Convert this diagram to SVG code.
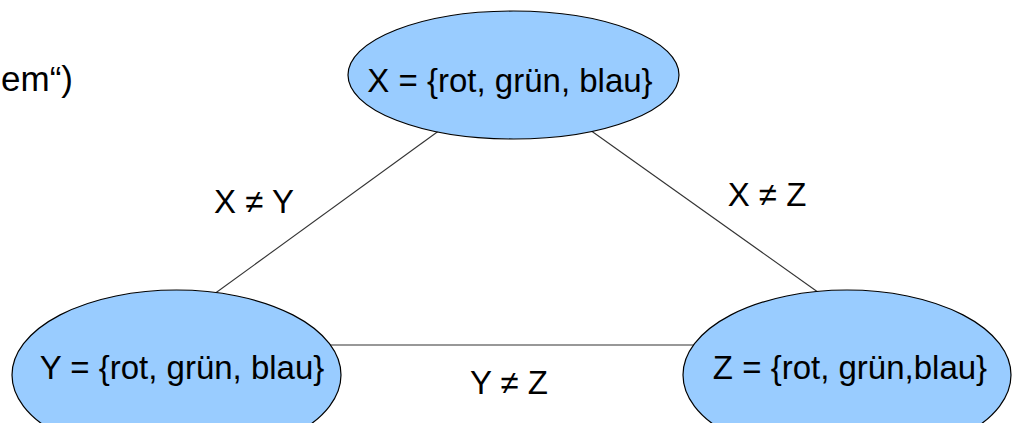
<svg xmlns="http://www.w3.org/2000/svg" width="1018" height="423" viewBox="0 0 1018 423">
<style>
.node{fill:#99ccff;stroke:#000;stroke-width:1.2}
.edge{stroke:#333;stroke-width:1.1;fill:none}
text{font-family:"Liberation Sans",Arial,sans-serif;fill:#000}
.nl{font-size:33px;text-anchor:middle}
.el{font-size:33px;text-anchor:middle}
</style>
<rect width="1018" height="423" fill="#fff"/>
<text x="73" y="91" font-size="35" text-anchor="end">em“)</text>
<g id="connectors">
<line class="edge" x1="440" y1="130" x2="210" y2="297"/>
<line class="edge" x1="590" y1="130" x2="822" y2="295"/>
<line class="edge" x1="330" y1="345" x2="700" y2="345"/>
<text class="el" x="254" y="213">X ≠ Y</text>
<text class="el" x="767" y="206">X ≠ Z</text>
<text class="el" x="509" y="394">Y ≠ Z</text>
</g>
<g id="node-x">
<ellipse class="node" cx="513.5" cy="75" rx="165.5" ry="64"/>
<text class="nl" x="510" y="92">X = {rot, grün, blau}</text>
</g>
<g id="node-y">
<ellipse class="node" cx="176.5" cy="375" rx="164.5" ry="85"/>
<text class="nl" x="182" y="379">Y = {rot, grün, blau}</text>
</g>
<g id="node-z">
<ellipse class="node" cx="847" cy="375" rx="164" ry="85"/>
<text class="nl" x="850" y="379">Z = {rot, grün,blau}</text>
</g>
</svg>
